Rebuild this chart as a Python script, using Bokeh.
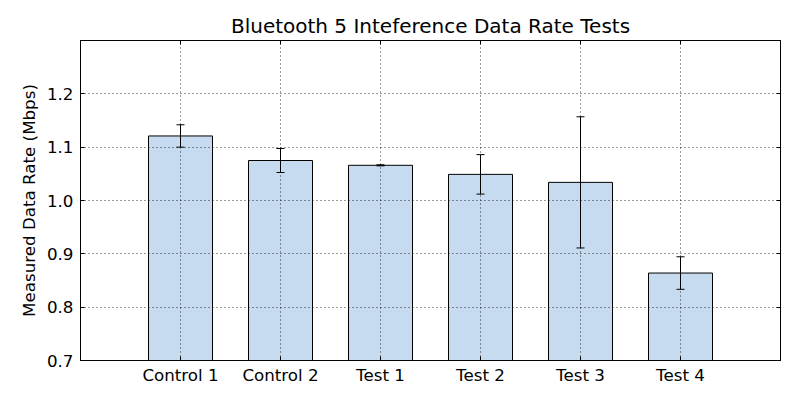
from bokeh.plotting import figure
from bokeh.models import (ColumnDataSource, FixedTicker, LinearAxis, Range1d,
                          Whisker, TeeHead, NumeralTickFormatter,
                          CustomJSTickFormatter)
from bokeh.embed import file_html
from bokeh.resources import INLINE

# Measured BLE 5 throughput per test run (Mbps) with spread
categories = ["Control 1", "Control 2", "Test 1", "Test 2", "Test 3", "Test 4"]
rates = [1.121, 1.075, 1.066, 1.049, 1.034, 0.864]
errors = [0.021, 0.0225, 0.001, 0.037, 0.123, 0.0305]
y_ticks = [0.7, 0.8, 0.9, 1.0, 1.1, 1.2]

FONT = "DejaVu Sans"
positions = list(range(len(categories)))

src = ColumnDataSource(dict(
    x=positions,
    rate=rates,
    upper=[r + e for r, e in zip(rates, errors)],
    lower=[r - e for r, e in zip(rates, errors)],
))

p = figure(width=800, height=400, output_backend="svg", toolbar_location=None,
           x_range=Range1d(-1, len(categories)), y_range=Range1d(0.7, 1.3),
           title="Bluetooth 5 Inteference Data Rate Tests",
           min_border_left=80, min_border_right=20,
           min_border_top=40, min_border_bottom=40)

p.title.align = "center"
p.title.text_font = FONT
p.title.text_font_size = "20px"
p.title.text_font_style = "normal"
p.title.text_color = "black"
p.title.standoff = 5

p.outline_line_color = "black"
p.outline_line_width = 1
p.background_fill_color = "white"
p.border_fill_color = "white"

p.vbar(x="x", top="rate", bottom=0.7, width=0.64, source=src,
       fill_color="#c6dbef", line_color="black", line_width=1)

p.add_layout(Whisker(base="x", upper="upper", lower="lower", source=src,
                     line_color="black", line_width=1, level="overlay",
                     upper_head=TeeHead(size=8, line_color="black", line_width=1),
                     lower_head=TeeHead(size=8, line_color="black", line_width=1)))

xt = FixedTicker(ticks=positions)
yt = FixedTicker(ticks=y_ticks)

# bottom / left axes
p.xaxis.ticker = xt
p.xaxis.major_label_overrides = {i: c for i, c in zip(positions, categories)}
p.yaxis.ticker = yt
p.yaxis.formatter = NumeralTickFormatter(format="0.0")
p.yaxis.axis_label = "Measured Data Rate (Mbps)"

for ax in (p.xaxis[0], p.yaxis[0]):
    ax.major_tick_in = 4
    ax.major_tick_out = 0
    ax.minor_tick_in = 0
    ax.minor_tick_out = 0
    ax.axis_line_color = "black"
    ax.major_tick_line_color = "black"
    ax.major_label_text_font = FONT
    ax.major_label_text_font_size = "16.7px"
    ax.major_label_text_color = "black"
    ax.axis_label_text_font = FONT
    ax.axis_label_text_font_size = "16.7px"
    ax.axis_label_text_font_style = "normal"
    ax.axis_label_text_color = "black"
p.xaxis.major_label_standoff = 4
p.yaxis.major_label_standoff = 7
p.yaxis.axis_label_standoff = 5

# mirrored tick marks on top and right, without labels
blank = CustomJSTickFormatter(code="return ''")
right = LinearAxis(ticker=yt, formatter=blank,
                   major_tick_in=4, major_tick_out=0, minor_tick_in=0,
                   minor_tick_out=0, axis_line_color="black",
                   major_label_standoff=0)
top = LinearAxis(ticker=xt, formatter=blank,
                 major_tick_in=4, major_tick_out=0, minor_tick_in=0,
                 minor_tick_out=0, axis_line_color="black",
                 major_label_standoff=0)
p.add_layout(right, "right")
p.add_layout(top, "above")

for g in (p.xgrid[0], p.ygrid[0]):
    g.grid_line_color = "black"
    g.grid_line_alpha = 0.8
    g.grid_line_width = 1
    g.grid_line_dash = "1 3"
    g.level = "overlay"
p.xgrid.ticker = xt
p.ygrid.ticker = yt

open("out.html", "w").write(file_html(p, INLINE))
